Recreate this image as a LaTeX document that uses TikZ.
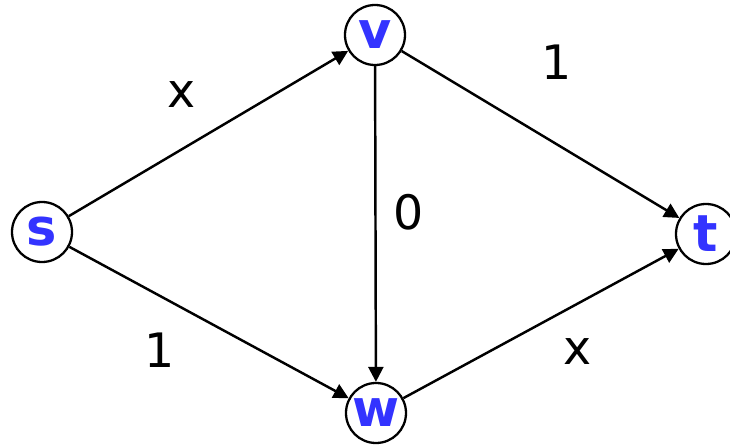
\documentclass[tikz,border=0pt]{standalone}
\usepackage{fontspec}
\setmainfont{DejaVu Sans}
\usetikzlibrary{arrows.meta}
\definecolor{vblue}{RGB}{51,51,255}

\begin{document}
\begin{tikzpicture}[
  vertex/.style={draw, circle, line width=1.3pt, minimum size=1.2cm, inner sep=0pt, text=vblue, font=\fontsize{29}{32}\selectfont\bfseries},
  arrow/.style={-{Triangle[length=3mm, width=3mm]}, line width=1.4pt},
  weight/.style={font=\fontsize{27}{30}\selectfont}
]
\useasboundingbox (0,0) rectangle (14.6,8.88);

\node[vertex] (s) at (0.84,4.24) {s};
\node[vertex] (v) at (7.5,8.18) {v};
\node[vertex] (w) at (7.52,0.62) {w};
\node[vertex] (t) at (14.12,4.2) {t};

\draw[arrow] (s) -- (v);
\draw[arrow] (s) -- (w);
\draw[arrow] (v) -- (w);
\draw[arrow] (v) -- (t);
\draw[arrow] (w) -- (t);

% capacities
\node[weight] (csv) at (3.64,6.98) {x};
\node[weight] (cvt) at (11.14,7.64) {1};
\node[weight] (cvw) at (8.18,4.64) {0};
\node[weight] (csw) at (3.2,1.88) {1};
\node[weight] (cwt) at (11.56,1.84) {x};

\end{tikzpicture}
\end{document}
